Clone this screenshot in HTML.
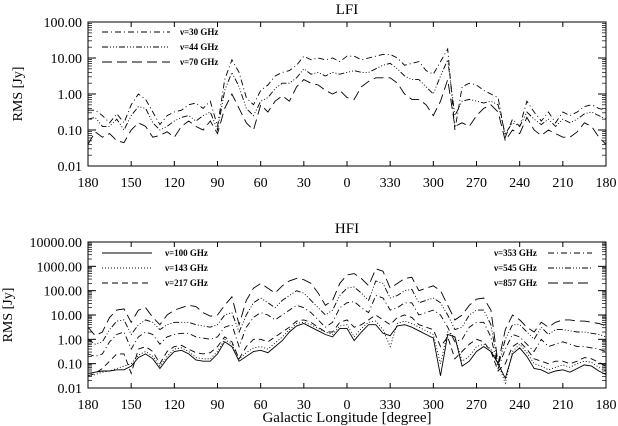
<!DOCTYPE html>
<html><head><meta charset="utf-8"><style>
html,body{margin:0;padding:0;background:#fff;}
svg{display:block;font-family:"Liberation Serif",serif;}
</style></head><body>
<svg id="chart" width="618" height="426" viewBox="0 0 618 426" xmlns="http://www.w3.org/2000/svg"></svg>
<script>
const xPos = [];
for (let i = 0; i <= 72; i++) xPos.push(i * 5);
const xTickLabels = ["180","150","120","90","60","30","0","330","300","270","240","210","180"];
const lfiTickLabels = ["0.01","0.10","1.00","10.00","100.00"];
const hfiTickLabels = ["0.01","0.10","1.00","10.00","100.00","1000.00","10000.00"];

const lfi30 = [-0.45,-0.45,-0.6,-0.8,-0.55,-0.8,-0.3,0.0,-0.15,-0.5,-0.85,-0.6,-0.5,-0.45,-0.3,-0.25,-0.4,-0.2,-0.9,0.4,0.95,0.6,-0.1,-0.3,0.1,0.25,0.5,0.6,0.65,0.8,1.05,0.95,1.0,0.95,1.0,0.9,1.05,1.05,0.95,1.0,1.05,1.1,1.1,1.0,0.8,0.85,0.9,0.65,0.55,0.9,1.25,-1.0,0.2,0.3,0.25,0.1,0.0,-0.1,-1.2,-0.7,-0.9,-0.2,-0.5,-0.75,-0.5,-0.8,-0.5,-0.6,-0.5,-0.35,-0.3,-0.4,-0.45];
const lfi44 = [-0.7,-0.65,-0.9,-0.9,-0.7,-1.0,-0.6,-0.35,-0.4,-0.8,-1.0,-0.9,-0.75,-0.65,-0.6,-0.75,-0.6,-0.5,-1.0,0.1,0.6,0.2,-0.4,-0.6,-0.2,-0.1,0.15,0.3,0.3,0.45,0.7,0.55,0.6,0.5,0.6,0.55,0.6,0.65,0.6,0.6,0.7,0.8,0.85,0.7,0.5,0.4,0.4,0.2,0.0,0.5,0.95,-0.6,-0.2,-0.15,-0.2,-0.25,-0.2,-0.3,-1.1,-0.8,-0.9,-0.5,-0.7,-0.85,-0.7,-0.9,-0.7,-0.8,-0.7,-0.55,-0.5,-0.6,-0.7];
const lfi70 = [-1.4,-1.05,-1.2,-1.1,-1.3,-1.35,-1.0,-0.8,-0.9,-1.2,-1.15,-1.05,-1.2,-0.9,-0.75,-0.9,-1.0,-0.75,-1.1,-0.4,0.0,-0.4,-0.8,-1.0,-0.3,-0.5,-0.2,-0.05,-0.2,0.2,0.4,0.3,0.25,0.1,0.0,0.1,-0.1,-0.15,0.2,0.35,0.45,0.45,0.45,0.3,0.0,-0.15,-0.15,-0.3,-0.6,-0.2,0.4,-0.9,-0.8,-0.9,-0.6,-0.4,-0.3,-0.5,-1.3,-1.0,-1.1,-0.65,-1.0,-1.15,-1.0,-1.1,-1.2,-1.2,-1.05,-0.8,-0.9,-1.2,-1.4];

const hfi100 = [-1.4,-1.35,-1.3,-1.3,-1.25,-1.25,-1.1,-0.75,-0.6,-0.8,-1.2,-0.8,-0.5,-0.45,-0.6,-0.85,-0.9,-0.9,-0.6,-0.1,-0.3,-0.9,-0.7,-0.5,-0.45,-0.55,-0.3,-0.05,0.3,0.55,0.65,0.5,0.35,0.2,0.1,0.45,0.45,-0.05,0.3,0.6,0.6,0.25,0.15,0.55,0.6,0.5,0.35,0.2,0.05,-1.5,0.2,0.1,-1.1,-0.9,-0.5,-0.3,-0.5,-1.0,-1.6,-0.6,-0.35,-0.7,-1.2,-1.25,-1.4,-1.3,-1.25,-1.35,-1.2,-1.05,-1.1,-1.3,-1.45];
const hfi143 = [-1.5,-1.45,-1.35,-1.3,-1.2,-1.1,-1.0,-0.65,-0.5,-0.7,-1.1,-0.7,-0.4,-0.35,-0.5,-0.75,-0.8,-0.8,-0.5,0.0,-0.2,-0.8,-0.55,-0.35,-0.3,-0.4,-0.15,0.1,0.4,0.65,0.7,0.6,0.45,0.3,0.2,0.55,0.6,0.1,0.45,0.7,0.75,0.4,-0.3,0.65,0.75,0.65,0.5,0.35,0.2,-1.0,0.3,0.1,-0.9,-0.7,-0.3,-0.2,-0.4,-1.0,-1.8,-0.5,-0.2,-0.55,-1.0,-1.1,-1.25,-1.15,-1.05,-1.15,-1.0,-0.9,-0.95,-1.15,-1.3];
const hfi217 = [-1.5,-1.4,-1.2,-0.9,-0.6,-0.6,-1.4,-0.4,-0.3,-0.5,-1.0,-0.5,-0.3,-0.25,-0.4,-0.55,-0.6,-0.55,-0.3,0.1,-0.1,-0.8,-0.3,0.0,0.0,-0.1,0.1,0.3,0.5,0.75,0.8,0.7,0.5,0.3,0.3,0.7,0.8,0.5,0.6,0.8,1.0,0.8,0.6,0.9,1.0,0.9,0.6,0.5,0.4,-0.3,0.1,-0.8,-0.5,-0.2,0.0,-0.1,-0.5,-1.3,-1.0,-0.3,-0.1,-0.4,-0.8,-0.9,-1.0,-0.9,-0.9,-1.0,-0.9,-0.75,-0.8,-0.95,-1.1];
const hfi353 = [-0.6,-0.7,-0.6,-0.1,0.2,0.3,-0.4,0.1,0.3,0.2,-0.2,0.1,0.2,0.25,0.25,0.1,0.05,0.0,0.1,0.5,0.6,-0.3,0.5,0.9,1.1,1.0,0.8,1.0,1.2,1.4,1.3,1.1,0.8,0.5,0.7,1.3,1.5,1.55,1.3,1.1,1.8,1.7,1.2,1.3,1.5,1.5,1.0,1.1,1.2,1.0,0.5,-0.1,0.0,0.5,0.7,0.7,0.1,-1.2,-0.4,0.2,0.1,-0.2,-0.5,0.0,-0.3,-0.2,-0.1,-0.2,-0.3,-0.3,-0.35,-0.4,-0.5];
const hfi545 = [0.0,-0.2,-0.1,0.4,0.75,0.8,0.2,0.6,0.8,0.7,0.4,0.6,0.7,0.7,0.7,0.6,0.55,0.5,0.6,1.0,1.1,0.3,1.0,1.5,1.7,1.5,1.3,1.6,1.8,2.0,1.9,1.6,1.3,1.0,1.2,1.8,2.1,2.15,1.9,1.6,2.4,2.3,1.7,1.8,2.0,2.05,1.5,1.6,1.7,1.5,1.0,0.4,0.5,1.0,1.2,1.2,0.6,-1.1,0.0,0.6,0.6,0.3,0.0,0.5,0.2,0.4,0.4,0.35,0.3,0.3,0.25,0.2,0.1];
const hfi857 = [0.5,0.15,0.3,0.9,1.2,1.25,0.7,1.2,1.3,0.9,0.6,1.0,1.2,1.3,1.4,1.35,1.1,0.95,1.0,1.4,1.75,0.6,1.6,2.1,2.3,2.1,1.9,2.2,2.4,2.5,2.45,2.3,1.9,1.4,1.6,2.3,2.65,2.7,2.5,2.2,2.9,2.8,2.1,2.3,2.5,2.55,2.0,2.1,2.2,2.0,1.4,0.8,1.0,1.4,1.65,1.7,1.2,-1.0,0.4,1.0,0.8,0.5,0.3,0.7,0.5,0.7,0.8,0.8,0.75,0.75,0.7,0.65,0.55];

const NS = "http://www.w3.org/2000/svg";
const svg = document.getElementById('chart');
function mk(tag, attrs, parent) {
  const e = document.createElementNS(NS, tag);
  for (const k in attrs) e.setAttribute(k, attrs[k]);
  (parent || svg).appendChild(e);
  return e;
}
const X0 = 88, X1 = 606;
function xScale(p) { return X0 + p / 360 * (X1 - X0); }

function panel(cfg) {
  const g = mk('g', {});
  
  
  const yS = v => cfg.bot - (v - cfg.lmin) / (cfg.lmax - cfg.lmin) * (cfg.bot - cfg.top);
  const cid = cfg.name + '-clip';
  const cp = mk('clipPath', { id: cid }, g);
  mk('rect', { x: X0, y: cfg.top, width: X1 - X0, height: cfg.bot - cfg.top }, cp);
  const t = mk('text', { x: (X0 + X1) / 2, y: cfg.titleY, 'text-anchor': 'middle', 'font-size': 15 }, g);
  t.textContent = cfg.title;
  
  
  const box = mk('rect', { x: X0, y: cfg.top, width: X1 - X0, height: cfg.bot - cfg.top, fill: 'none', stroke: '#000', 'stroke-width': 1 }, g);
  
  
  xTickLabels.forEach((lab, i) => {
    const x = xScale(i * 30);
    mk('line', { x1: x, x2: x, y1: cfg.bot, y2: cfg.bot - 5, stroke: '#000' }, g);
    mk('line', { x1: x, x2: x, y1: cfg.top, y2: cfg.top + 5, stroke: '#000' }, g);
    const tx = mk('text', { x: x, y: cfg.bot + 21, 'text-anchor': 'middle', 'font-size': 14 }, g);
    tx.textContent = lab;
    
    
  });
  cfg.yLabels.forEach((lab, i) => {
    const v = cfg.lmin + i;
    const y = yS(v);
    mk('line', { x1: X0, x2: X0 + 8, y1: y, y2: y, stroke: '#000' }, g);
    mk('line', { x1: X1, x2: X1 - 8, y1: y, y2: y, stroke: '#000' }, g);
    if (v < cfg.lmax) for (let m = 2; m <= 9; m++) {
      const ym = yS(v + Math.log10(m));
      mk('line', { x1: X0, x2: X0 + 4, y1: ym, y2: ym, stroke: '#000', 'stroke-width': 0.7 }, g);
      mk('line', { x1: X1, x2: X1 - 4, y1: ym, y2: ym, stroke: '#000', 'stroke-width': 0.7 }, g);
    }
    const ty = mk('text', { x: 82, y: y + 5, 'text-anchor': 'end', 'font-size': 14 }, g);
    ty.textContent = lab;
    
    
  });
  const yt = mk('text', { x: 0, y: 0, 'text-anchor': 'middle', 'font-size': 14, transform: `translate(${cfg.ytX},${(cfg.top + cfg.bot) / 2}) rotate(-90)` }, g);
  yt.textContent = 'RMS [Jy]';
  
  
  const sg = mk('g', { 'clip-path': `url(#${cid})` }, g);
  cfg.series.forEach(s => {
    const pts = s.data.map((v, i) => xScale(xPos[i]).toFixed(1) + ',' + yS(v).toFixed(1)).join(' ');
    const pl = mk('polyline', { points: pts, fill: 'none', stroke: '#000', 'stroke-width': 0.9, 'stroke-dasharray': s.dash }, sg);
    
    
  });
  cfg.series.forEach(s => {
    const lg = mk('g', {}, g);
    
    
    mk('line', { x1: s.lx1, x2: s.lx2, y1: s.ly, y2: s.ly, stroke: '#000', 'stroke-width': 0.9, 'stroke-dasharray': s.dash }, lg);
    const tt = mk('text', { x: s.tx, y: s.ly + 3, 'font-size': 9, 'font-weight': 'bold' }, lg);
    tt.textContent = 'ν=' + s.label + ' GHz';
  });
}

panel({ name: 'lfi-panel', title: 'LFI', titleY: 14, top: 22, bot: 166, lmin: -2, lmax: 2, yLabels: lfiTickLabels, ytX: 22,
  series: [
    { key: '30ghz', label: '30', data: lfi30, dash: '6,3,1,3', lx1: 102, lx2: 170, ly: 32, tx: 180 },
    { key: '44ghz', label: '44', data: lfi44, dash: '6,2,1,2,1,2,1,2', lx1: 102, lx2: 170, ly: 47, tx: 180 },
    { key: '70ghz', label: '70', data: lfi70, dash: '10,5', lx1: 102, lx2: 170, ly: 62, tx: 180 }
  ]});

panel({ name: 'hfi-panel', title: 'HFI', titleY: 233, top: 242, bot: 388, lmin: -2, lmax: 4, yLabels: hfiTickLabels, ytX: 12,
  series: [
    { key: '100ghz', label: '100', data: hfi100, dash: 'none', lx1: 102, lx2: 152, ly: 253, tx: 165 },
    { key: '143ghz', label: '143', data: hfi143, dash: '1,2', lx1: 102, lx2: 152, ly: 268, tx: 165 },
    { key: '217ghz', label: '217', data: hfi217, dash: '6,4', lx1: 102, lx2: 152, ly: 283, tx: 165 },
    { key: '353ghz', label: '353', data: hfi353, dash: '6,3,1,3', lx1: 548, lx2: 592, ly: 253, tx: 494 },
    { key: '545ghz', label: '545', data: hfi545, dash: '6,2,1,2,1,2,1,2', lx1: 548, lx2: 592, ly: 268, tx: 494 },
    { key: '857ghz', label: '857', data: hfi857, dash: '10,5', lx1: 548, lx2: 592, ly: 283, tx: 494 }
  ]});

const xl = mk('text', { x: (X0 + X1) / 2, y: 422, 'text-anchor': 'middle', 'font-size': 15 });
xl.textContent = 'Galactic Longitude [degree]';


</script>
</body></html>
